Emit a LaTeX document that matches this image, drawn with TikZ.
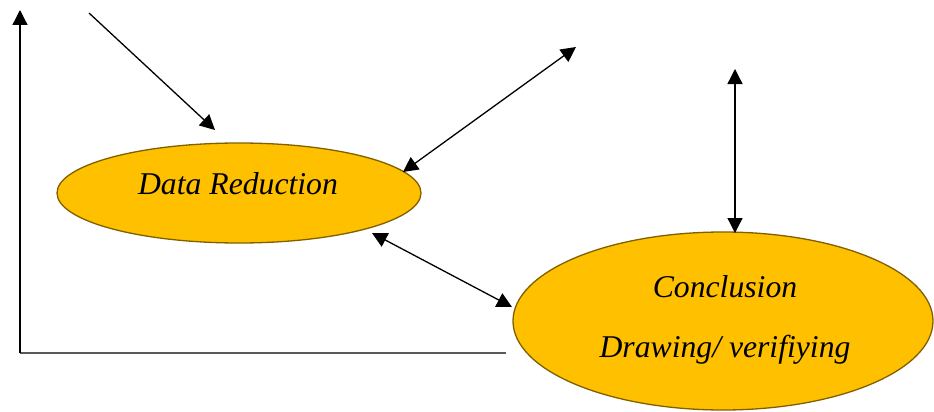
\documentclass[tikz,border=0pt]{standalone}
\usepackage{fontspec}
\setmainfont{Liberation Serif}
\usetikzlibrary{arrows.meta,shapes.geometric}
\definecolor{boxfill}{HTML}{FFC000}
\definecolor{boxline}{HTML}{7F6000}
\definecolor{axisgrey}{HTML}{595959}
\tikzset{
  stage/.style={ellipse, draw=boxline, fill=boxfill, line width=1.3pt, inner sep=0pt},
  caption/.style={font=\fontsize{31.7}{36}\selectfont\itshape, inner sep=0pt},
  tip/.style={line width=1.3pt, -{Triangle[length=15pt,width=15pt]}},
  dtip/.style={line width=1.3pt, {Triangle[length=15pt,width=15pt]}-{Triangle[length=15pt,width=15pt]}},
}
\begin{document}
\begin{tikzpicture}[x=1pt,y=-1pt]
\useasboundingbox (0,0) rectangle (934,412);

% axes
\coordinate (origin) at (20,353);
\coordinate (ytop) at (20,10);
\coordinate (xend) at (506,353);
\draw[axisgrey, line width=1.3pt] (origin) -- (xend);
\draw[tip] (origin) -- (ytop);

% stages
\node[stage, minimum width=364pt, minimum height=100pt] (reduction) at (239,193) {};
\node[caption] (reductiontext) at (238,184) {Data Reduction};

\node[stage, minimum width=420pt, minimum height=178pt] (conclusion) at (723,321) {};
\node[caption, anchor=base] (conclusiontext) at (725,297) {Conclusion};
\node[caption, anchor=base] (drawingtext) at (725,357) {Drawing/ verifiying};

% connectors
\coordinate (in1) at (89,13);
\coordinate (in1end) at (215,130);
\draw[tip] (in1) -- (in1end);

\coordinate (out2) at (576,47);
\coordinate (out2end) at (403,172);
\draw[dtip] (out2end) -- (out2);

\coordinate (out3) at (735,69);
\coordinate (out3end) at (735,233);
\draw[dtip] (out3end) -- (out3);

\coordinate (link1) at (372,233);
\coordinate (link2) at (512,307);
\draw[dtip] (link1) -- (link2);
\end{tikzpicture}
\end{document}
